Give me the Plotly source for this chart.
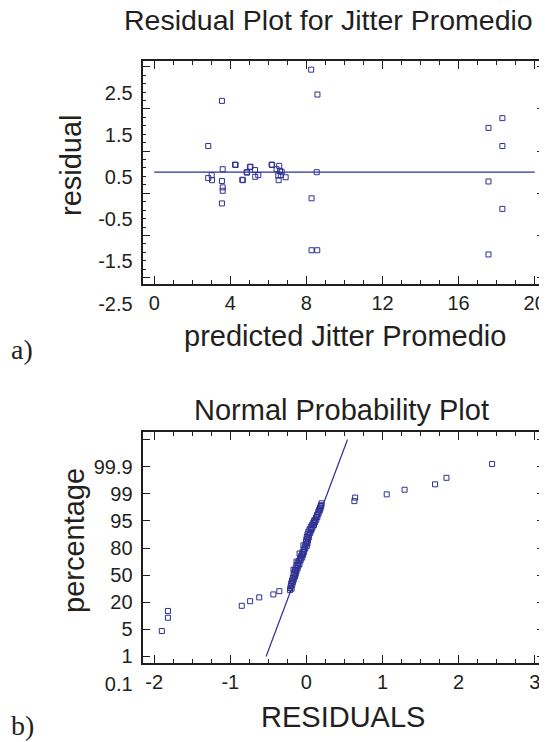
import plotly.graph_objects as go

W, H = 547, 742
PAGE_PAD = 8  # browser body margin around the plot div

# (a) residual plot: predicted value vs residual
pred_a = [2.84, 3.56, 8.25, 8.58, 17.57, 18.3, 18.3,
          2.84, 3.02, 3.04, 3.60, 3.56, 3.60, 3.60, 3.56,
          4.25, 4.28, 4.63, 4.66, 4.86, 4.88, 5.03, 5.06, 5.30, 5.31, 5.47,
          6.17, 6.20, 6.43, 6.57, 6.61, 6.70, 6.52, 6.65, 6.54, 6.91,
          8.54, 8.27, 8.27, 8.57, 17.57, 18.3, 17.57]
resid_a = [0.62, 1.69, 2.43, 1.84, 1.05, 1.28, 0.62,
           -0.14, -0.07, -0.19, 0.07, -0.21, -0.36, -0.44, -0.74,
           0.18, 0.17, -0.18, -0.19, 0.0, -0.01, 0.12, 0.13, 0.05, -0.11, -0.07,
           0.18, 0.17, 0.07, 0.15, 0.03, 0.01, -0.08, -0.07, -0.19, -0.12,
           0.0, -0.62, -1.85, -1.85, -0.22, -0.87, -1.95]
fit_a_x = [0, 20]
fit_a_y = [0, 0]
res_ticks = [-2.5, -1.5, -0.5, 0.5, 1.5, 2.5]
pred_ticks = [0, 4, 8, 12, 16, 20]

# (b) normal probability plot: residual vs normal score (axis units)
resid_b = [-1.90, -1.82, -1.82, -0.85, -0.74, -0.62, -0.435, -0.356,
           -0.215, -0.21, -0.205, -0.20, -0.19, -0.18, -0.17, -0.16, -0.15,
           -0.14, -0.128, -0.115, -0.10, -0.085, -0.07, -0.06, -0.05, -0.035,
           -0.02, -0.01, -0.005, 0.0, 0.005, 0.015, 0.025, 0.04, 0.057, 0.075,
           0.09, 0.11, 0.126, 0.14, 0.156, 0.168, 0.179, 0.19, 0.20,
           -0.17, -0.13, -0.09, -0.04, 0.01, 0.06, 0.10,
           -0.195, -0.185, -0.175, -0.165, -0.15, -0.14, -0.13, -0.115,
           -0.105, -0.09, -0.075, -0.055, -0.045, -0.03, -0.015, 0.005,
           0.015, 0.02, 0.03, 0.035, 0.05, 0.065, 0.08, 0.10, 0.115, 0.13,
           0.145, 0.16, 0.175, 0.185, 0.195,
           0.63, 0.64, 1.055, 1.29, 1.69, 1.84, 2.44]
score_b = [-3.06, -2.57, -2.32, -2.13, -1.96, -1.82, -1.71, -1.59,
           -1.55, -1.47, -1.40, -1.30, -1.20, -1.10, -1.00, -0.90, -0.81,
           -0.72, -0.63, -0.55, -0.47, -0.38, -0.30, -0.22, -0.14, -0.05,
           0.05, 0.14, 0.23, 0.32, 0.42, 0.51, 0.60, 0.69, 0.79, 0.86,
           0.93, 1.03, 1.13, 1.23, 1.34, 1.42, 1.50, 1.58, 1.65,
           -0.80, -0.50, -0.20, 0.10, 0.40, 0.70, 1.00,
           -1.50, -1.35, -1.25, -1.15, -1.05, -0.95, -0.85, -0.75,
           -0.65, -0.58, -0.45, -0.35, -0.25, -0.15, -0.02, 0.08,
           0.18, 0.28, 0.38, 0.47, 0.56, 0.66, 0.75, 0.85, 0.95, 1.05,
           1.15, 1.27, 1.38, 1.46, 1.55,
           1.73, 1.86, 1.98, 2.15, 2.35, 2.59, 3.10]
fit_b_x = [-0.53, 0.54]
fit_b_y = [-4.0, 4.0]
pct_pos = [-4, -3, -2, -1, 0, 1, 2, 3, 4]
pct_text = ['0.1', '1', '5', '20', '50', '80', '95', '99', '99.9']
res_b_ticks = [-2, -1, 0, 1, 2, 3]

BLUE = '#2e3192'
INK = '#231f20'
FONT = 'Liberation Sans, Arial, sans-serif'


def fx(px):
    return (px - PAGE_PAD) / W


def fy(py):
    return 1 - (py - PAGE_PAD) / H


marker = dict(symbol='square-open', size=5, color=BLUE, line=dict(width=1, color=BLUE))

fig = go.Figure()
fig.add_trace(go.Scatter(x=pred_a, y=resid_a, mode='markers', marker=marker,
                         xaxis='x', yaxis='y'))
fig.add_trace(go.Scatter(x=fit_a_x, y=fit_a_y, mode='lines',
                         line=dict(color=BLUE, width=1.2), xaxis='x', yaxis='y'))
fig.add_trace(go.Scatter(x=resid_b, y=score_b, mode='markers', marker=marker,
                         xaxis='x2', yaxis='y2'))
fig.add_trace(go.Scatter(x=fit_b_x, y=fit_b_y, mode='lines',
                         line=dict(color=BLUE, width=1.2), xaxis='x2', yaxis='y2'))

frame = dict(showline=True, linecolor=INK, linewidth=1.8, mirror='allticks',
             ticks='inside', ticklen=8, tickwidth=1.3, tickcolor=INK,
             showgrid=False, zeroline=False, automargin=False,
             tickfont=dict(family=FONT, size=20, color=INK))


def minor(step, start=0):
    return dict(ticks='inside', ticklen=4, tickwidth=1, tickcolor=INK,
                dtick=step, tick0=start, showgrid=False)


fig.update_layout(
    width=W, height=H,
    margin=dict(l=0, r=0, t=0, b=0),
    paper_bgcolor='white', plot_bgcolor='white',
    showlegend=False,
    xaxis=dict(frame, domain=[fx(142.5), fx(545)], anchor='y',
               range=[-0.615, 20.54], tickvals=pred_ticks, minor=minor(1)),
    yaxis=dict(frame, domain=[fy(284), fy(61)], anchor='x',
               range=[-2.65, 2.635], tickvals=res_ticks,
               ticktext=[str(v) for v in res_ticks],
               ticklabelshift=26, ticklabelstandoff=4,
               minor=minor(0.2, 0.5)),
    xaxis2=dict(frame, domain=[fx(142.5), fx(545)], anchor='y2',
                range=[-2.154, 3.135], tickvals=res_b_ticks,
                ticktext=[str(v) for v in res_b_ticks], minor=minor(0.25)),
    yaxis2=dict(frame, domain=[fy(663.3), fy(431.7)], anchor='x2',
                range=[-4.25, 4.29], tickvals=pct_pos, ticktext=pct_text,
                ticklabelshift=27, ticklabelstandoff=4),
)

txt = dict(family=FONT, size=29, color=INK)
serif = dict(family='Liberation Serif, Times New Roman, serif', size=28, color=INK)
notes = [
    ('Residual Plot for Jitter Promedio', 328, 20, 0, dict(txt, size=28.5)),
    ('residual', 71, 165, -90, txt),
    ('predicted Jitter Promedio', 345, 336, 0, txt),
    ('a)', 22, 350, 0, serif),
    ('Normal Probability Plot', 341.5, 410, 0, txt),
    ('percentage', 74, 541, -90, txt),
    ('RESIDUALS', 343, 717, 0, txt),
    ('b)', 22, 725, 0, serif),
]
for text, x, y, ang, font in notes:
    fig.add_annotation(text=text, x=fx(x), y=fy(y), xref='paper', yref='paper',
                       xanchor='center', yanchor='middle', showarrow=False,
                       textangle=ang, font=font)

fig.write_html("out.html")
